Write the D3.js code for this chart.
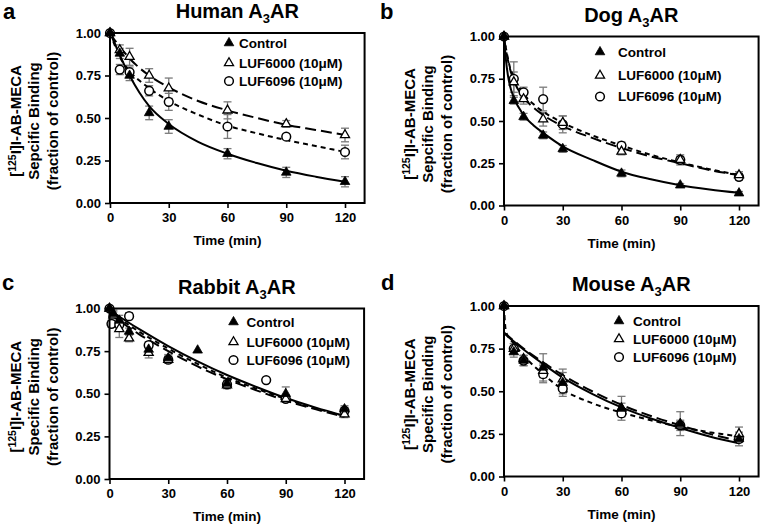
<!DOCTYPE html>
<html><head><meta charset="utf-8">
<script src="https://cdn.jsdelivr.net/npm/d3@7"></script>
<style>
body{margin:0;background:#fff}
svg{display:block}
text{font-family:"Liberation Sans",Arial,Helvetica,sans-serif;font-weight:bold;fill:#000}
</style>
</head><body><svg id="chart" width="761" height="525"></svg>
<script>
// ---------- data ----------
const panelLetters = ["a", "b", "c", "d"];
const species = ["Human", "Dog", "Rabbit", "Mouse"];
const seriesNames = ["Control", "LUF6000 (10\u03bcM)", "LUF6096 (10\u03bcM)"];
const yTicks = [0, 0.25, 0.5, 0.75, 1.0];
const xTicks = [0, 30, 60, 90, 120];
const yLabel1 = ["[", "125", "I]I-AB-MECA"];
const yLabel2 = ["Sepcific Binding", "Sepcific Binding", "Specific Binding", "Specific Binding"];
const yLabel3 = "(fraction of control)";
const xLabel = "Time (min)";

const stdTimes = [0, 5, 10, 20, 30, 60, 90, 120];

// Human
const humanControl = [1.0, 0.88, 0.75, 0.53, 0.45, 0.29, 0.18, 0.125];
const humanControlErr = [0, 0.03, 0.03, 0.04, 0.04, 0.03, 0.03, 0.03];
const humanLuf6000 = [1.0, 0.90, 0.86, 0.75, 0.675, 0.545, 0.465, 0.40];
const humanLuf6000Err = [0, 0.03, 0.05, 0.04, 0.06, 0.05, 0.02, 0.04];
const humanLuf6096 = [1.0, 0.785, 0.77, 0.66, 0.595, 0.45, 0.39, 0.30];
const humanLuf6096Err = [0, 0.03, 0.03, 0.03, 0.05, 0.07, 0.01, 0.04];

// Dog
const dogControl = [1.0, 0.62, 0.525, 0.415, 0.335, 0.19, 0.12, 0.073];
const dogControlErr = [0, 0.02, 0.02, 0.02, 0.02, 0.02, 0.01, 0.01];
const dogLuf6000 = [1.0, 0.73, 0.63, 0.51, 0.49, 0.32, 0.27, 0.18];
const dogLuf6000Err = [0, 0.06, 0.03, 0.04, 0.04, 0.02, 0.02, 0.02];
const dogLuf6096 = [1.0, 0.75, 0.67, 0.63, 0.48, 0.355, 0.27, 0.17];
const dogLuf6096Err = [0, 0.10, 0.03, 0.07, 0.05, 0.02, 0.03, 0.02];

// Rabbit (its own sampling times)
const rabbitTimes = [0, 1, 2, 5, 10, 20, 30, 45, 60, 80, 90, 120];
const rabbitControl = [1.0, null, 0.97, 0.93, 0.865, 0.76, 0.71, 0.755, 0.56, null, 0.50, 0.41];
const rabbitControlErr = [0, 0, 0.02, 0.03, 0.02, 0.03, 0.02, 0, 0.02, 0, 0.04, 0.02];
const rabbitLuf6000 = [1.0, null, 0.96, 0.88, 0.825, 0.74, 0.70, null, 0.55, null, 0.47, 0.38];
const rabbitLuf6000Err = [0, 0, 0.02, 0.05, 0.02, 0.03, 0.02, 0, 0.02, 0, 0.02, 0.02];
const rabbitLuf6096 = [1.0, 0.91, null, 0.905, 0.955, 0.785, 0.70, null, 0.555, 0.58, 0.47, 0.40];
const rabbitLuf6096Err = [0, 0.02, 0, 0.02, 0.02, 0.02, 0.02, 0, 0.02, 0, 0.02, 0.02];

// Mouse
const mouseControl = [1.0, 0.73, 0.68, 0.64, 0.55, 0.40, 0.31, 0.22];
const mouseControlErr = [0, 0.03, 0.03, 0.08, 0.08, 0.07, 0.07, 0.04];
const mouseLuf6000 = [1.0, 0.75, 0.69, 0.62, 0.57, 0.40, 0.30, 0.25];
const mouseLuf6000Err = [0, 0.03, 0.02, 0.04, 0.04, 0.03, 0.03, 0.04];
const mouseLuf6096 = [1.0, 0.75, 0.68, 0.60, 0.515, 0.37, 0.30, 0.22];
const mouseLuf6096Err = [0, 0.03, 0.03, 0.05, 0.03, 0.02, 0.02, 0.02];

// fitted curves
const humanCurveT = [0, 2, 5, 10, 15, 20, 30, 45, 60, 75, 90, 105, 120];
const humanCurveControl = [1.0, 0.95, 0.87, 0.75, 0.65, 0.57, 0.465, 0.36, 0.29, 0.235, 0.19, 0.155, 0.125];
const humanCurveLuf6000 = [1.0, 0.965, 0.92, 0.85, 0.795, 0.75, 0.68, 0.60, 0.545, 0.50, 0.46, 0.43, 0.40];
const humanCurveLuf6096 = [1.0, 0.94, 0.86, 0.775, 0.72, 0.675, 0.60, 0.52, 0.455, 0.41, 0.37, 0.335, 0.30];

const dogCurveT = [0, 1, 2, 3, 5, 10, 15, 20, 30, 45, 60, 75, 90, 105, 120];
const dogCurveControl = [1.0, 0.86, 0.77, 0.71, 0.64, 0.535, 0.475, 0.43, 0.35, 0.27, 0.20, 0.155, 0.12, 0.095, 0.075];
const dogCurveLuf6000 = [1.0, 0.92, 0.86, 0.81, 0.74, 0.64, 0.58, 0.535, 0.47, 0.40, 0.34, 0.29, 0.25, 0.21, 0.18];
const dogCurveLuf6096 = [1.0, 0.93, 0.87, 0.82, 0.76, 0.66, 0.60, 0.555, 0.49, 0.415, 0.355, 0.30, 0.255, 0.215, 0.18];

const rabbitCurveT = [0, 15, 30, 45, 60, 75, 90, 105, 120];
const rabbitCurveControl = [0.99, 0.88, 0.78, 0.69, 0.61, 0.54, 0.475, 0.42, 0.37];
const rabbitCurveLuf6000 = [0.97, 0.85, 0.75, 0.66, 0.585, 0.52, 0.46, 0.41, 0.365];
const rabbitCurveLuf6096 = [0.98, 0.865, 0.765, 0.675, 0.595, 0.53, 0.47, 0.415, 0.37];

const mouseCurveT = [0, 10, 20, 30, 45, 60, 75, 90, 105, 120];
const mouseCurveControl = [0.84, 0.745, 0.66, 0.58, 0.485, 0.405, 0.34, 0.285, 0.235, 0.195];
const mouseCurveLuf6000 = [0.845, 0.75, 0.67, 0.595, 0.50, 0.42, 0.355, 0.30, 0.25, 0.21];
const mouseCurve96T = [0, 0.5, 1, 5, 10, 20, 30, 45, 60, 75, 90, 105, 120];
const mouseCurveLuf6096 = [1.0, 0.90, 0.85, 0.78, 0.71, 0.60, 0.51, 0.43, 0.375, 0.33, 0.29, 0.26, 0.235];

// ---------- assemble ----------
const panelData = [
  {times: stdTimes, vals: [humanControl, humanLuf6000, humanLuf6096], errs: [humanControlErr, humanLuf6000Err, humanLuf6096Err],
   curves: [[humanCurveT, humanCurveControl], [humanCurveT, humanCurveLuf6000], [humanCurveT, humanCurveLuf6096]]},
  {times: stdTimes, vals: [dogControl, dogLuf6000, dogLuf6096], errs: [dogControlErr, dogLuf6000Err, dogLuf6096Err],
   curves: [[dogCurveT, dogCurveControl], [dogCurveT, dogCurveLuf6000], [dogCurveT, dogCurveLuf6096]]},
  {times: rabbitTimes, vals: [rabbitControl, rabbitLuf6000, rabbitLuf6096], errs: [rabbitControlErr, rabbitLuf6000Err, rabbitLuf6096Err],
   curves: [[rabbitCurveT, rabbitCurveControl], [rabbitCurveT, rabbitCurveLuf6000], [rabbitCurveT, rabbitCurveLuf6096]]},
  {times: stdTimes, vals: [mouseControl, mouseLuf6000, mouseLuf6096], errs: [mouseControlErr, mouseLuf6000Err, mouseLuf6096Err],
   curves: [[mouseCurveT, mouseCurveControl], [mouseCurveT, mouseCurveLuf6000], [mouseCurve96T, mouseCurveLuf6096]]}
];

// layout (positions kept out of data)
const layout = [
  {left: 110, top: 33, bottom: 203, letterX: 3, letterY: 19, leg: {m: 119, t: 129, rows: [10, 30, 48]}},
  {left: 504, top: 36.5, bottom: 205.5, letterX: 380, letterY: 19, leg: {m: 96, t: 114, rows: [15.5, 39, 60]}},
  {left: 109.5, top: 308.5, bottom: 479, letterX: 2, letterY: 290, leg: {m: 124, t: 137, rows: [13.5, 33.5, 51.5]}},
  {left: 504, top: 306, bottom: 476.5, letterX: 381, letterY: 290, leg: {m: 115, t: 129, rows: [15, 33, 51]}}
];
const pxPerMin = 235 / 120;
const dashes = [null, "11,5", "5,4"];

const svg = d3.select("#chart");

function marker(g, k, x, y) {
  if (k === 0) {
    g.append("path").attr("d", d3.symbol(d3.symbolTriangle, 40)())
      .attr("transform", `translate(${x},${y})`).attr("fill", "#000").attr("stroke", "#000").attr("stroke-width", 0.8);
  } else if (k === 1) {
    g.append("path").attr("d", d3.symbol(d3.symbolTriangle, 36)())
      .attr("transform", `translate(${x},${y})`).attr("fill", "#fff").attr("stroke", "#000").attr("stroke-width", 1.3);
  } else {
    g.append("path").attr("d", d3.symbol(d3.symbolCircle, 60)())
      .attr("transform", `translate(${x},${y})`).attr("fill", "#fff").attr("stroke", "#000").attr("stroke-width", 1.5);
  }
}

panelData.forEach((pd, i) => {
  const L = layout[i];
  const right = L.left + 130 * pxPerMin;
  const x = d3.scaleLinear().domain([0, 130]).range([L.left, right]);
  const y = d3.scaleLinear().domain([0, 1]).range([L.bottom, L.top]);
  const g = svg.append("g");

  // axes
  const ya = g.append("g").attr("transform", `translate(${L.left},0)`)
    .call(d3.axisLeft(y).tickValues(yTicks).tickFormat(d3.format(".2f")).tickSize(5).tickSizeOuter(0).tickPadding(4));
  const xa = g.append("g").attr("transform", `translate(0,${L.bottom})`)
    .call(d3.axisBottom(x).tickValues(xTicks).tickFormat(d3.format("d")).tickSize(5).tickSizeOuter(0).tickPadding(5));
  [ya, xa].forEach(a => {
    a.select(".domain").remove();
    a.selectAll("line").attr("stroke", "#000").attr("stroke-width", 1.6);
    a.selectAll("text").style("font-size", "13px").attr("fill", "#000");
  });

  // error bars
  const eg = g.append("g").attr("stroke", "#7a7a7a").attr("stroke-width", 1.3).attr("fill", "none");
  pd.vals.forEach((vals, k) => {
    vals.forEach((v, j) => {
      const e = pd.errs[k][j];
      if (v == null || !e) return;
      const cx = x(pd.times[j]);
      eg.append("line").attr("x1", cx).attr("x2", cx).attr("y1", y(v - e)).attr("y2", y(v + e));
      eg.append("line").attr("x1", cx - 4).attr("x2", cx + 4).attr("y1", y(v - e)).attr("y2", y(v - e));
      eg.append("line").attr("x1", cx - 4).attr("x2", cx + 4).attr("y1", y(v + e)).attr("y2", y(v + e));
    });
  });

  // curves
  pd.curves.forEach((c, k) => {
    const pts = c[0].map((t, j) => [t, c[1][j]]);
    const line = d3.line().x(d => x(d[0])).y(d => y(d[1])).curve(d3.curveMonotoneX);
    const p = g.append("path").attr("d", line(pts)).attr("fill", "none").attr("stroke", "#000")
      .attr("stroke-width", 2);
    if (dashes[k]) p.attr("stroke-dasharray", dashes[k]);
  });

  // markers
  const mg = g.append("g");
  [2, 1, 0].forEach(k => {
    pd.vals[k].forEach((v, j) => {
      if (v == null) return;
      marker(mg, k, x(pd.times[j]), y(v));
    });
  });

  // frame
  g.append("rect").attr("x", L.left).attr("y", L.top).attr("width", right - L.left).attr("height", L.bottom - L.top)
    .attr("fill", "none").attr("stroke", "#000").attr("stroke-width", 2);

  // legend
  const lg = g.append("g");
  seriesNames.forEach((name, k) => {
    const ly = L.top + L.leg.rows[k];
    marker(lg, k, L.left + L.leg.m, ly);
    lg.append("text").attr("x", L.left + L.leg.t).attr("y", ly).attr("dy", "0.36em")
      .style("font-size", "13.5px").text(name);
  });

  // title
  const cx = (L.left + right) / 2;
  const tt = g.append("text").attr("x", cx).attr("y", L.top - 15).attr("text-anchor", "middle").style("font-size", "20px");
  tt.append("tspan").text(species[i] + " A");
  tt.append("tspan").attr("dy", 5).style("font-size", "13px").text("3");
  tt.append("tspan").attr("dy", -5).text("AR");

  // panel letter
  g.append("text").attr("x", L.letterX).attr("y", L.letterY).style("font-size", "22px").text(panelLetters[i]);

  // x label
  g.append("text").attr("x", x(60)).attr("y", L.bottom + 42).attr("text-anchor", "middle").style("font-size", "13.5px").text(xLabel);

  // y label (three lines)
  const cy = (L.top + L.bottom) / 2 + 3;
  const yl = g.append("g").attr("transform", `translate(0,${cy})`);
  const l1 = yl.append("text").attr("transform", `translate(${L.left - 89},0) rotate(-90)`).attr("text-anchor", "middle").style("font-size", "15px");
  l1.append("tspan").text(yLabel1[0]);
  l1.append("tspan").attr("dy", -5).style("font-size", "10.5px").text(yLabel1[1]);
  l1.append("tspan").attr("dy", 5).text(yLabel1[2]);
  yl.append("text").attr("transform", `translate(${L.left - 71},0) rotate(-90)`).attr("text-anchor", "middle").style("font-size", "15px").text(yLabel2[i]);
  yl.append("text").attr("transform", `translate(${L.left - 52},0) rotate(-90)`).attr("text-anchor", "middle").style("font-size", "15px").text(yLabel3);
});
</script>
</body></html>
